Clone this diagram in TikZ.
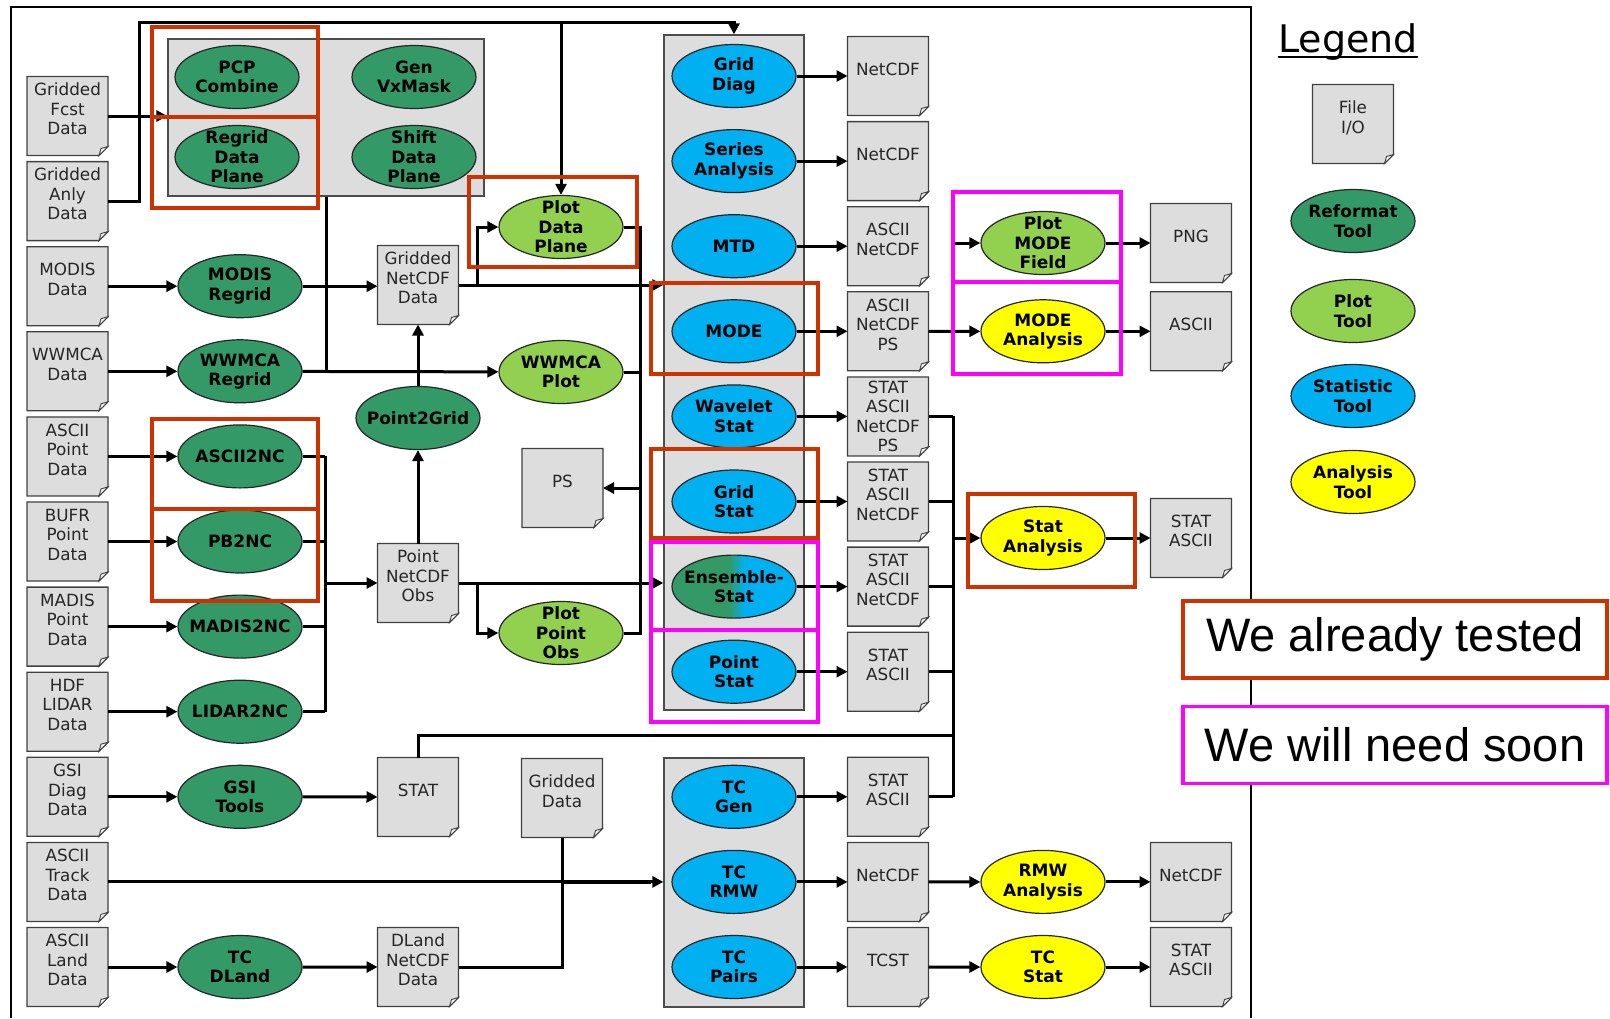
\documentclass[tikz,border=0pt]{standalone}
\usepackage{fontspec}
\setmainfont{DejaVu Sans}
\newfontfamily\notefamily{Liberation Sans}
\usetikzlibrary{shapes.geometric,arrows.meta,backgrounds}
\definecolor{reformatgreen}{RGB}{51,153,102}
\definecolor{plotgreen}{RGB}{146,208,80}
\definecolor{statblue}{RGB}{0,176,240}
\definecolor{anayellow}{RGB}{255,255,0}
\definecolor{filegray}{RGB}{221,221,221}
\definecolor{testred}{RGB}{204,51,0}
\definecolor{needmagenta}{RGB}{255,0,255}
\pgfdeclarehorizontalshading{ensshade}{100bp}{color(0bp)=(reformatgreen); color(48bp)=(reformatgreen); color(54bp)=(statblue); color(100bp)=(statblue)}
\newcommand{\boxfont}{\fontsize{16.8}{19.5}\selectfont}
\newcommand{\toolfont}{\fontsize{17}{19.5}\selectfont\bfseries}
\newcommand{\notefont}{\notefamily\fontsize{47}{50}\selectfont}
\tikzset{
  flow/.style     = { line width=3pt, -{Triangle[length=11pt,width=11pt]} },
  wire/.style     = { line width=3pt },
  tool/.style     = { ellipse, draw=black!85, line width=1.2pt, minimum width=124pt, minimum height=63pt, inner xsep=-12pt, inner ysep=-10pt, align=center, font=\toolfont },
  reformat/.style = { tool, fill=reformatgreen },
  plottool/.style = { tool, fill=plotgreen },
  stattool/.style = { tool, fill=statblue },
  anatool/.style  = { tool, fill=anayellow },
  fileio/.style   = { minimum width=81pt, minimum height=79pt, inner sep=0pt, outer sep=0pt, align=center, font=\boxfont, text=black!85, text depth=14pt },
  filebody/.style = { fill=filegray, draw=black!75, line width=1.3pt },
  filefold/.style = { fill=white!80!filegray, draw=black!75, line width=0.9pt },
  groupbox/.style = { draw=black!70, fill=filegray, line width=1.3pt, inner sep=0pt },
  tested/.style   = { draw=testred, line width=3.5pt },
  needed/.style   = { draw=needmagenta, line width=3.5pt }
}
\begin{document}
\begin{tikzpicture}[x=1pt,y=-1pt]
\useasboundingbox (0,0) rectangle (1610,1018);
\draw[line width=2.6pt] (11,1018) -- (11,7) -- (1251,7) -- (1251,1018);

\node[groupbox, minimum width=316pt, minimum height=157pt] (prep) at (326,117.5) {};
\node[groupbox, minimum width=140pt, minimum height=675pt] (statcol) at (734,372.5) {};
\node[groupbox, minimum width=140pt, minimum height=249pt] (tccol) at (734,882.5) {};

\foreach \nm/\r/\txt in {fcst/0/{Gridded\\Fcst\\Data}, anly/1/{Gridded\\Anly\\Data}, modis/2/{MODIS\\Data}, wwmca/3/{WWMCA\\Data}, asciipt/4/{ASCII\\Point\\Data}, bufr/5/{BUFR\\Point\\Data}, madis/6/{MADIS\\Point\\Data}, lidar/7/{HDF\\LIDAR\\Data}, gsi/8/{GSI\\Diag\\Data}, track/9/{ASCII\\Track\\Data}, land/10/{ASCII\\Land\\Data}}
  \node[fileio] (\nm) at (67.5,{116+85.1*\r}) {\txt};

\node[reformat] (pcp) at (237,77) {PCP\\Combine};
\node[reformat] (genvx) at (414,77) {Gen\\VxMask};
\node[reformat] (regriddp) at (237,157) {Regrid\\Data\\Plane};
\node[reformat] (shiftdp) at (414,157) {Shift\\Data\\Plane};
\foreach \nm/\r/\txt in {modisreg/2/{MODIS\\Regrid}, wwmcareg/3/{WWMCA\\Regrid}, ascii2nc/4/{ASCII2NC}, pb2nc/5/{PB2NC}, madis2nc/6/{MADIS2NC}, lidar2nc/7/{LIDAR2NC}, gsitools/8/{GSI\\Tools}, tcdland/10/{TC\\DLand}}
  \node[reformat] (\nm) at (240,{116+85.1*\r}) {\txt};

\node[fileio] (griddednc) at (418,285) {Gridded\\NetCDF\\Data};
\node[reformat] (p2g) at (418,418) {Point2Grid};
\node[fileio] (pointnc) at (418,583) {Point\\NetCDF\\Obs};
\node[fileio] (gsistat) at (418,797) {STAT};
\node[fileio] (dland) at (418,967) {DLand\\NetCDF\\Data};

\node[plottool] (plotdp) at (561,227) {Plot\\Data\\Plane};
\node[plottool] (wwmcaplot) at (561,372) {WWMCA\\Plot};
\node[fileio] (ps) at (562.5,488) {PS};
\node[plottool] (plotpo) at (561,633) {Plot\\Point\\Obs};
\node[fileio] (griddeddata) at (562,798) {Gridded\\Data};

\foreach \nm/\r/\txt in {griddiag/0/{Grid\\Diag}, series/1/{Series\\Analysis}, mtd/2/{MTD}, mode/3/{MODE}, wavelet/4/{Wavelet\\Stat}, gridstat/5/{Grid\\Stat}, pointstat/7/{Point\\Stat}}
  \node[stattool] (\nm) at (734,{76+85.1*\r}) {\txt};
\node[tool, shade, shading=ensshade] (ensstat) at (734,{76+85.1*6}) {Ensemble-\\Stat};
\foreach \nm/\r/\txt in {o0/0/{NetCDF}, o1/1/{NetCDF}, o2/2/{ASCII\\NetCDF}, o3/3/{ASCII\\NetCDF\\PS}, o5/5/{STAT\\ASCII\\NetCDF}, o6/6/{STAT\\ASCII\\NetCDF}, o7/7/{STAT\\ASCII}}
  \node[fileio] (\nm) at (888,{76+85.1*\r}) {\txt};
\node[fileio, text depth=0pt] (o4) at (888,{76+85.1*4}) {STAT\\ASCII\\NetCDF\\PS};

\foreach \nm/\r/\txt in {tcgen/8/{TC\\Gen}, tcrmw/9/{TC\\RMW}, tcpairs/10/{TC\\Pairs}}
  \node[stattool] (\nm) at (734,{116+85.1*\r}) {\txt};
\foreach \nm/\r/\txt in {tco0/8/{STAT\\ASCII}, tco1/9/{NetCDF}, tco2/10/{TCST}}
  \node[fileio] (\nm) at (888,{116+85.1*\r}) {\txt};

\node[plottool] (plotmode) at (1043,243) {Plot\\MODE\\Field};
\node[anatool] (modeana) at (1043,331.3) {MODE\\Analysis};
\node[anatool] (statana) at (1043,538) {Stat\\Analysis};
\node[anatool] (rmwana) at (1043,881.9) {RMW\\Analysis};
\node[anatool] (tcstat) at (1043,967) {TC\\Stat};
\node[fileio] (png) at (1191,243) {PNG};
\node[fileio] (modeascii) at (1191,331.3) {ASCII};
\node[fileio] (statascii) at (1191,538) {STAT\\ASCII};
\node[fileio] (rmwnc) at (1191,881.9) {NetCDF};
\node[fileio] (tcstatascii) at (1191,967) {STAT\\ASCII};

\node[anchor=base, inner sep=0pt, font=\fontsize{38}{40}\selectfont] (legend) at (1348,52) {Legend};
\draw[line width=2.6pt] ([yshift=-5pt]legend.base west) -- ([yshift=-5pt]legend.base east);
\node[fileio] (legio) at (1353,124) {File\\I/O};
\node[reformat] (legref) at (1353,221) {Reformat\\Tool};
\node[plottool] (legplot) at (1353,311) {Plot\\Tool};
\node[stattool] (legstat) at (1353,396) {Statistic\\Tool};
\node[anatool] (legana) at (1353,482) {Analysis\\Tool};

\begin{scope}[on background layer]
\foreach \f in {fcst,anly,modis,wwmca,asciipt,bufr,madis,lidar,gsi,track,land,griddednc,pointnc,gsistat,dland,ps,griddeddata,o0,o1,o2,o3,o4,o5,o6,o7,tco0,tco1,tco2,png,modeascii,statascii,rmwnc,tcstatascii,legio} {
  \draw[filebody] (\f.north west) -- (\f.north east) -- ([yshift=9pt]\f.south east) -- ([xshift=-9pt]\f.south east) -- (\f.south west) -- cycle;
  \draw[filefold] ([xshift=-9pt]\f.south east) -- ([xshift=-7pt,yshift=7pt]\f.south east) -- ([yshift=9pt]\f.south east) -- cycle;
}
\end{scope}

% gridded inputs
\coordinate (topleft) at (139,22);
\draw[flow] (fcst.east) -- (fcst.east -| prep.west);
\draw[flow] (anly.east) -| (topleft) -| (statcol.north);
\draw[flow] (plotdp.north |- topleft) -- (plotdp.north);
\draw[wire] (prep.south) -- (prep.south |- wwmcareg.east);

\foreach \a/\b in {modis/modisreg, wwmca/wwmcareg, asciipt/ascii2nc, bufr/pb2nc, madis/madis2nc, lidar/lidar2nc, gsi/gsitools, land/tcdland}
  \draw[flow] (\a) -- (\b);

\draw[flow] (modisreg.east) -- (modisreg.east -| griddednc.west);
\draw[flow] (wwmcareg) -- (wwmcaplot);
\draw[flow] (griddednc.east) -- (griddednc.east -| statcol.west);
\draw[flow] ([xshift=19pt]griddednc.east) |- (plotdp.west);

\coordinate (psbus) at (640,488);
\draw[wire] (plotdp.east) -| (psbus |- plotpo.east) -- (plotpo.east);
\draw[wire] (wwmcaplot.east) -- (wwmcaplot.east -| psbus);
\draw[flow] (psbus) -- (ps.east);

\coordinate (ncbus) at (325,583);
\foreach \t in {ascii2nc,pb2nc,madis2nc,lidar2nc}
  \draw[wire] (\t.east) -- (\t.east -| ncbus);
\draw[wire] (ascii2nc.east -| ncbus) -- (lidar2nc.east -| ncbus);
\draw[flow] (ncbus) -- (pointnc.west);
\draw[flow] (pointnc.north) -- (p2g.south);
\draw[flow] (p2g.north) -- (griddednc.south);
\draw[flow] (pointnc.east) -- (pointnc.east -| statcol.west);
\draw[flow] ([xshift=19pt]pointnc.east) |- (plotpo.west);

\draw[flow] (gsitools) -- (gsistat);
\draw[flow] (tcdland) -- (dland);
\draw[flow] (track.east) -- (track.east -| tccol.west);
\draw[wire] (dland.east) -| (griddeddata.south);
\draw[wire, line width=4.5pt] (griddeddata.south |- track.east) -- ([xshift=-12pt]track.east -| tccol.west);

% tools to outputs
\foreach \s/\o in {griddiag/o0, series/o1, mtd/o2, mode/o3, wavelet/o4, gridstat/o5, ensstat/o6, pointstat/o7, tcgen/tco0, tcrmw/tco1, tcpairs/tco2}
  \draw[flow] (\s) -- (\o);

\coordinate (sabus) at (953,538);
\coordinate (gsijoin) at (953,735);
\foreach \o in {o4,o5,o6,o7,tco0}
  \draw[wire] (\o.east) -- (\o.east -| sabus);
\draw[wire] (o4.east -| sabus) -- (tco0.east -| sabus);
\draw[wire] (gsistat.north) |- (gsijoin);
\draw[flow] (sabus) -- (statana.west);

\draw[flow] (o3.east) -- (modeana.west);
\draw[flow] (o3.east -| sabus) |- (plotmode.west);
\foreach \a/\b in {plotmode/png, modeana/modeascii, statana/statascii, tco1/rmwana, rmwana/rmwnc, tco2/tcstat, tcstat/tcstatascii}
  \draw[flow] (\a) -- (\b);

% marked tools
\draw[tested] (152,27) rectangle (318,117);
\draw[tested] (152,117) rectangle (318,208);
\draw[tested] (469,177) rectangle (637,267);
\draw[tested] (651,283) rectangle (818,374);
\draw[tested] (152,419) rectangle (318,509);
\draw[tested] (152,509) rectangle (318,601);
\draw[tested] (651,449) rectangle (818,538);
\draw[tested] (968,494) rectangle (1135,587);
\draw[needed] (651,542) rectangle (818,630);
\draw[needed] (651,630) rectangle (818,722);
\draw[needed] (953,192) rectangle (1121,282);
\draw[needed] (953,282) rectangle (1121,374);

\node[tested, fill=white, minimum width=424pt, minimum height=77pt, font=\notefont] (testednote) at (1395,639.5) {We already tested};
\node[needed, fill=white, minimum width=424pt, minimum height=77pt, font=\notefont] (needednote) at (1395,745) {We will need soon};
\end{tikzpicture}
\end{document}
